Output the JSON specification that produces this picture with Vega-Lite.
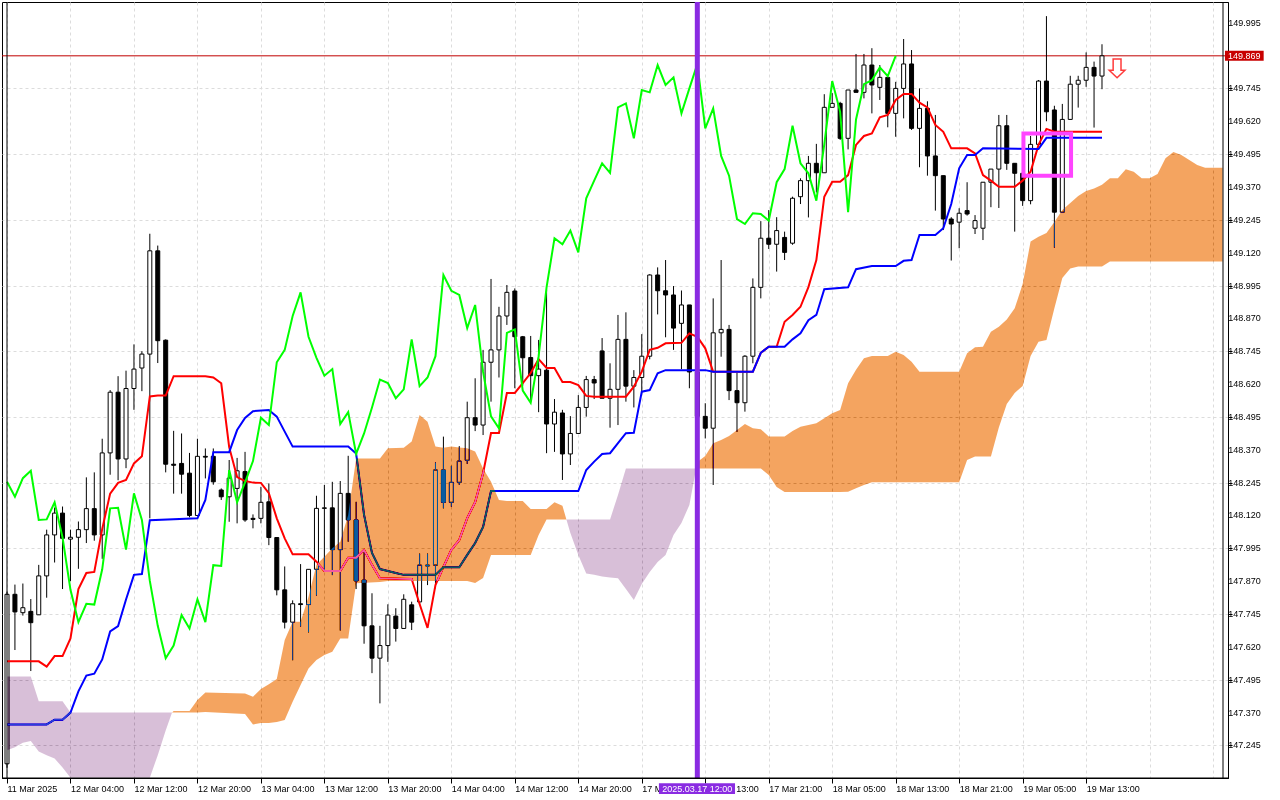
{
"$schema":"https://vega.github.io/schema/vega-lite/v6.json",
"width":1226,"height":776,"autosize":"none",
"padding":{"left":2,"top":2,"right":52,"bottom":22},
"background":"white",
"config":{"view":{"stroke":"#000000","strokeWidth":1},"font":"Liberation Sans"},
"datasets":{
"yt":[{"p":147.245},{"p":147.37},{"p":147.495},{"p":147.62},{"p":147.745},{"p":147.87},{"p":147.995},{"p":148.12},{"p":148.245},{"p":148.37},{"p":148.495},{"p":148.62},{"p":148.745},{"p":148.87},{"p":148.995},{"p":149.12},{"p":149.245},{"p":149.37},{"p":149.495},{"p":149.62},{"p":149.745},{"p":149.995}],
"bars":[
{"k":0,"o":147.175,"h":147.83,"l":147.16,"c":147.82},
{"k":1,"o":147.82,"h":147.857,"l":147.608,"c":147.753},
{"k":2,"o":147.75,"h":147.861,"l":147.739,"c":147.769},
{"k":3,"o":147.755,"h":147.802,"l":147.528,"c":147.712},
{"k":4,"o":147.742,"h":147.932,"l":147.742,"c":147.89},
{"k":5,"o":147.89,"h":148.066,"l":147.807,"c":148.046},
{"k":6,"o":148.046,"h":148.15,"l":147.941,"c":148.129},
{"k":7,"o":148.129,"h":148.154,"l":147.84,"c":148.033},
{"k":8,"o":148.03,"h":148.066,"l":147.87,"c":148.037},
{"k":9,"o":148.037,"h":148.097,"l":147.917,"c":148.066},
{"k":10,"o":148.066,"h":148.265,"l":148.015,"c":148.146},
{"k":11,"o":148.146,"h":148.284,"l":148.024,"c":148.046},
{"k":12,"o":148.046,"h":148.412,"l":147.955,"c":148.358},
{"k":13,"o":148.358,"h":148.597,"l":148.275,"c":148.589},
{"k":14,"o":148.589,"h":148.65,"l":148.254,"c":148.335},
{"k":15,"o":148.335,"h":148.671,"l":148.3,"c":148.603},
{"k":16,"o":148.603,"h":148.771,"l":148.522,"c":148.677},
{"k":17,"o":148.681,"h":148.745,"l":148.593,"c":148.734},
{"k":18,"o":148.734,"h":149.192,"l":148.109,"c":149.127},
{"k":19,"o":149.127,"h":149.147,"l":148.7,"c":148.785},
{"k":20,"o":148.787,"h":148.79,"l":148.284,"c":148.315},
{"k":21,"o":148.315,"h":148.442,"l":148.203,"c":148.311},
{"k":22,"o":148.318,"h":148.432,"l":148.203,"c":148.277},
{"k":23,"o":148.281,"h":148.358,"l":148.113,"c":148.12},
{"k":24,"o":148.12,"h":148.412,"l":148.12,"c":148.345},
{"k":25,"o":148.345,"h":148.375,"l":148.261,"c":148.342},
{"k":26,"o":148.345,"h":148.375,"l":148.237,"c":148.248},
{"k":27,"o":148.217,"h":148.223,"l":148.179,"c":148.191},
{"k":28,"o":148.191,"h":148.331,"l":148.096,"c":148.262},
{"k":29,"o":148.223,"h":148.339,"l":148.09,"c":148.29},
{"k":30,"o":148.287,"h":148.362,"l":148.096,"c":148.103},
{"k":31,"o":148.109,"h":148.124,"l":148.071,"c":148.105},
{"k":32,"o":148.109,"h":148.229,"l":148.09,"c":148.17},
{"k":33,"o":148.172,"h":148.242,"l":148.007,"c":148.036},
{"k":34,"o":148.036,"h":148.036,"l":147.816,"c":147.837},
{"k":35,"o":147.837,"h":147.926,"l":147.69,"c":147.714},
{"k":36,"o":147.714,"h":147.797,"l":147.569,"c":147.784},
{"k":37,"o":147.784,"h":147.935,"l":147.697,"c":147.781},
{"k":38,"o":147.781,"h":147.915,"l":147.675,"c":147.915},
{"k":39,"o":147.915,"h":148.195,"l":147.815,"c":148.147},
{"k":40,"o":148.147,"h":148.236,"l":147.912,"c":148.149},
{"k":41,"o":148.149,"h":148.248,"l":147.893,"c":147.99},
{"k":42,"o":147.99,"h":148.251,"l":147.682,"c":148.204},
{"k":43,"o":148.204,"h":148.347,"l":148.02,"c":148.103},
{"k":44,"o":148.103,"h":148.172,"l":147.84,"c":147.871},
{"k":45,"o":147.874,"h":147.981,"l":147.632,"c":147.7},
{"k":46,"o":147.7,"h":147.824,"l":147.52,"c":147.577},
{"k":47,"o":147.577,"h":147.7,"l":147.405,"c":147.625},
{"k":48,"o":147.625,"h":147.782,"l":147.563,"c":147.741},
{"k":49,"o":147.737,"h":147.767,"l":147.64,"c":147.69},
{"k":50,"o":147.69,"h":147.82,"l":147.69,"c":147.801},
{"k":51,"o":147.78,"h":147.792,"l":147.684,"c":147.714},
{"k":52,"o":147.791,"h":147.975,"l":147.78,"c":147.931},
{"k":53,"o":147.931,"h":147.975,"l":147.855,"c":147.928},
{"k":54,"o":147.931,"h":148.322,"l":147.843,"c":148.293},
{"k":55,"o":148.293,"h":148.42,"l":148.147,"c":148.17},
{"k":56,"o":148.17,"h":148.309,"l":148.153,"c":148.246},
{"k":57,"o":148.246,"h":148.384,"l":148.236,"c":148.327},
{"k":58,"o":148.33,"h":148.553,"l":148.316,"c":148.492},
{"k":59,"o":148.492,"h":148.642,"l":148.441,"c":148.464},
{"k":60,"o":148.464,"h":148.75,"l":148.426,"c":148.703},
{"k":61,"o":148.703,"h":149.02,"l":148.553,"c":148.75},
{"k":62,"o":148.75,"h":148.914,"l":148.645,"c":148.879},
{"k":63,"o":148.879,"h":148.997,"l":148.845,"c":148.969},
{"k":64,"o":148.974,"h":148.984,"l":148.604,"c":148.8},
{"k":65,"o":148.8,"h":148.803,"l":148.614,"c":148.72},
{"k":66,"o":148.721,"h":148.803,"l":148.553,"c":148.652},
{"k":67,"o":148.652,"h":148.788,"l":148.513,"c":148.677},
{"k":68,"o":148.673,"h":148.979,"l":148.357,"c":148.468},
{"k":69,"o":148.468,"h":148.563,"l":148.362,"c":148.513},
{"k":70,"o":148.51,"h":148.522,"l":148.255,"c":148.354},
{"k":71,"o":148.354,"h":148.498,"l":148.312,"c":148.432},
{"k":72,"o":148.432,"h":148.578,"l":148.432,"c":148.531},
{"k":73,"o":148.531,"h":148.651,"l":148.496,"c":148.637},
{"k":74,"o":148.637,"h":148.651,"l":148.563,"c":148.624},
{"k":75,"o":148.746,"h":148.795,"l":148.566,"c":148.566},
{"k":76,"o":148.566,"h":148.699,"l":148.454,"c":148.6},
{"k":77,"o":148.6,"h":148.883,"l":148.464,"c":148.79},
{"k":78,"o":148.79,"h":148.893,"l":148.553,"c":148.612},
{"k":79,"o":148.612,"h":148.673,"l":148.531,"c":148.645},
{"k":80,"o":148.645,"h":148.81,"l":148.585,"c":148.726},
{"k":81,"o":148.726,"h":149.038,"l":148.714,"c":149.035},
{"k":82,"o":149.035,"h":149.064,"l":148.885,"c":148.975},
{"k":83,"o":148.975,"h":149.092,"l":148.798,"c":148.959},
{"k":84,"o":148.959,"h":148.993,"l":148.75,"c":148.833},
{"k":85,"o":148.851,"h":148.976,"l":148.677,"c":148.921},
{"k":86,"o":148.921,"h":148.921,"l":148.604,"c":148.666},
{"k":87,"o":148.666,"h":148.7,"l":148.45,"c":148.497},
{"k":88,"o":148.497,"h":148.547,"l":148.413,"c":148.452},
{"k":89,"o":148.452,"h":148.946,"l":148.236,"c":148.815},
{"k":90,"o":148.815,"h":149.092,"l":148.724,"c":148.828},
{"k":91,"o":148.828,"h":148.845,"l":148.559,"c":148.595},
{"k":92,"o":148.595,"h":148.663,"l":148.438,"c":148.549},
{"k":93,"o":148.549,"h":148.73,"l":148.515,"c":148.726},
{"k":94,"o":148.726,"h":149.022,"l":148.699,"c":148.988},
{"k":95,"o":148.988,"h":149.24,"l":148.946,"c":149.175},
{"k":96,"o":149.175,"h":149.282,"l":149.134,"c":149.152},
{"k":97,"o":149.152,"h":149.255,"l":149.048,"c":149.204},
{"k":98,"o":149.178,"h":149.2,"l":149.092,"c":149.121},
{"k":99,"o":149.156,"h":149.333,"l":149.15,"c":149.327},
{"k":100,"o":149.333,"h":149.403,"l":149.305,"c":149.394},
{"k":101,"o":149.394,"h":149.488,"l":149.254,"c":149.46},
{"k":102,"o":149.46,"h":149.534,"l":149.349,"c":149.424},
{"k":103,"o":149.424,"h":149.723,"l":149.424,"c":149.673},
{"k":104,"o":149.673,"h":149.727,"l":149.673,"c":149.688},
{"k":105,"o":149.688,"h":149.694,"l":149.549,"c":149.555},
{"k":106,"o":149.555,"h":149.739,"l":149.513,"c":149.739},
{"k":107,"o":149.739,"h":149.876,"l":149.73,"c":149.73},
{"k":108,"o":149.73,"h":149.876,"l":149.707,"c":149.834},
{"k":109,"o":149.834,"h":149.898,"l":149.65,"c":149.758},
{"k":110,"o":149.749,"h":149.834,"l":149.701,"c":149.787},
{"k":111,"o":149.787,"h":149.787,"l":149.597,"c":149.65},
{"k":112,"o":149.65,"h":149.77,"l":149.561,"c":149.745},
{"k":113,"o":149.745,"h":149.933,"l":149.631,"c":149.838},
{"k":114,"o":149.838,"h":149.891,"l":149.587,"c":149.593},
{"k":115,"o":149.593,"h":149.745,"l":149.445,"c":149.669},
{"k":116,"o":149.669,"h":149.696,"l":149.413,"c":149.488},
{"k":117,"o":149.488,"h":149.644,"l":149.28,"c":149.413},
{"k":118,"o":149.413,"h":149.413,"l":149.206,"c":149.248},
{"k":119,"o":149.248,"h":149.255,"l":149.09,"c":149.229},
{"k":120,"o":149.236,"h":149.289,"l":149.137,"c":149.27},
{"k":121,"o":149.28,"h":149.388,"l":149.261,"c":149.267},
{"k":122,"o":149.213,"h":149.263,"l":149.191,"c":149.242},
{"k":123,"o":149.213,"h":149.388,"l":149.168,"c":149.388},
{"k":124,"o":149.388,"h":149.438,"l":149.293,"c":149.438},
{"k":125,"o":149.438,"h":149.644,"l":149.29,"c":149.603},
{"k":126,"o":149.603,"h":149.644,"l":149.435,"c":149.46},
{"k":127,"o":149.46,"h":149.46,"l":149.2,"c":149.422},
{"k":128,"o":149.422,"h":149.422,"l":149.298,"c":149.318},
{"k":129,"o":149.318,"h":149.564,"l":149.304,"c":149.532},
{"k":130,"o":149.532,"h":149.777,"l":149.532,"c":149.773},
{"k":131,"o":149.773,"h":150.02,"l":149.62,"c":149.656},
{"k":132,"o":149.663,"h":149.679,"l":149.139,"c":149.274},
{"k":133,"o":149.274,"h":149.686,"l":149.274,"c":149.627},
{"k":134,"o":149.627,"h":149.793,"l":149.625,"c":149.761},
{"k":135,"o":149.761,"h":149.793,"l":149.672,"c":149.776},
{"k":136,"o":149.776,"h":149.882,"l":149.751,"c":149.825},
{"k":137,"o":149.825,"h":149.847,"l":149.596,"c":149.792},
{"k":138,"o":149.792,"h":149.913,"l":149.742,"c":149.869}
],
"ten":[
{"k":0,"v":147.565},{"k":4,"v":147.565},{"k":5,"v":147.545},{"k":6,"v":147.585},{"k":7,"v":147.585},{"k":8,"v":147.652},{"k":9,"v":147.84},{"k":10,"v":147.901},{"k":11,"v":147.905},{"k":12,"v":148.069},{"k":13,"v":148.203},{"k":14,"v":148.244},{"k":15,"v":148.255},{"k":16,"v":148.318},{"k":17,"v":148.345},{"k":18,"v":148.573},{"k":19,"v":148.576},{"k":20,"v":148.576},{"k":21,"v":148.65},{"k":25,"v":148.65},{"k":26,"v":148.645},{"k":27,"v":148.623},{"k":28,"v":148.38},{"k":29,"v":148.266},{"k":30,"v":148.251},{"k":31,"v":148.245},{"k":32,"v":148.244},{"k":33,"v":148.205},{"k":34,"v":148.109},{"k":35,"v":148.033},{"k":36,"v":147.972},{"k":38,"v":147.972},{"k":39,"v":147.944},{"k":40,"v":147.909},{"k":42,"v":147.909},{"k":43,"v":147.959},{"k":44,"v":147.959},{"k":45,"v":147.989},{"k":46,"v":147.932},{"k":47,"v":147.881},{"k":51,"v":147.878},{"k":52,"v":147.783},{"k":53,"v":147.692},{"k":54,"v":147.855},{"k":55,"v":147.924},{"k":56,"v":147.989},{"k":57,"v":148.027},{"k":58,"v":148.11},{"k":59,"v":148.171},{"k":60,"v":148.281},{"k":61,"v":148.434},{"k":62,"v":148.434},{"k":63,"v":148.586},{"k":64,"v":148.586},{"k":65,"v":148.624},{"k":66,"v":148.662},{"k":67,"v":148.715},{"k":68,"v":148.681},{"k":69,"v":148.681},{"k":70,"v":148.628},{"k":71,"v":148.628},{"k":72,"v":148.616},{"k":73,"v":148.575},{"k":74,"v":148.572},{"k":78,"v":148.572},{"k":79,"v":148.61},{"k":80,"v":148.667},{"k":81,"v":148.75},{"k":82,"v":148.758},{"k":83,"v":148.775},{"k":85,"v":148.777},{"k":86,"v":148.813},{"k":87,"v":148.8},{"k":88,"v":148.756},{"k":89,"v":148.667},{"k":94,"v":148.667},{"k":95,"v":148.739},{"k":96,"v":148.762},{"k":97,"v":148.762},{"k":98,"v":148.857},{"k":99,"v":148.883},{"k":100,"v":148.914},{"k":101,"v":148.989},{"k":102,"v":149.092},{"k":103,"v":149.333},{"k":104,"v":149.39},{"k":105,"v":149.39},{"k":106,"v":149.415},{"k":107,"v":149.53},{"k":108,"v":149.564},{"k":109,"v":149.574},{"k":110,"v":149.635},{"k":111,"v":149.644},{"k":112,"v":149.701},{"k":113,"v":149.724},{"k":114,"v":149.724},{"k":115,"v":149.691},{"k":116,"v":149.673},{"k":117,"v":149.606},{"k":118,"v":149.58},{"k":119,"v":149.517},{"k":121,"v":149.517},{"k":122,"v":149.498},{"k":123,"v":149.415},{"k":124,"v":149.394},{"k":125,"v":149.371},{"k":127,"v":149.371},{"k":128,"v":149.394},{"k":129,"v":149.428},{"k":130,"v":149.53},{"k":131,"v":149.591},{"k":132,"v":149.58},{"k":138,"v":149.58}
],
"kij":[
{"k":0,"v":147.325},{"k":5,"v":147.325},{"k":6,"v":147.343},{"k":7,"v":147.343},{"k":8,"v":147.37},{"k":9,"v":147.451},{"k":10,"v":147.511},{"k":11,"v":147.518},{"k":12,"v":147.572},{"k":13,"v":147.679},{"k":14,"v":147.699},{"k":15,"v":147.8},{"k":16,"v":147.894},{"k":17,"v":147.897},{"k":18,"v":148.102},{"k":24,"v":148.109},{"k":25,"v":148.179},{"k":26,"v":148.361},{"k":28,"v":148.361},{"k":29,"v":148.445},{"k":30,"v":148.491},{"k":31,"v":148.517},{"k":33,"v":148.521},{"k":34,"v":148.496},{"k":35,"v":148.439},{"k":36,"v":148.382},{"k":43,"v":148.382},{"k":44,"v":148.356},{"k":45,"v":148.122},{"k":46,"v":147.977},{"k":47,"v":147.916},{"k":48,"v":147.909},{"k":49,"v":147.901},{"k":50,"v":147.894},{"k":54,"v":147.894},{"k":55,"v":147.923},{"k":57,"v":147.923},{"k":58,"v":147.97},{"k":59,"v":148.015},{"k":60,"v":148.076},{"k":61,"v":148.213},{"k":72,"v":148.213},{"k":73,"v":148.293},{"k":74,"v":148.325},{"k":75,"v":148.354},{"k":76,"v":148.357},{"k":77,"v":148.395},{"k":78,"v":148.433},{"k":79,"v":148.435},{"k":80,"v":148.591},{"k":81,"v":148.597},{"k":82,"v":148.661},{"k":83,"v":148.673},{"k":88,"v":148.673},{"k":89,"v":148.667},{"k":94,"v":148.667},{"k":95,"v":148.739},{"k":96,"v":148.762},{"k":98,"v":148.762},{"k":99,"v":148.79},{"k":100,"v":148.813},{"k":101,"v":148.863},{"k":102,"v":148.883},{"k":103,"v":148.981},{"k":106,"v":148.988},{"k":107,"v":149.057},{"k":109,"v":149.069},{"k":112,"v":149.069},{"k":113,"v":149.089},{"k":114,"v":149.092},{"k":115,"v":149.187},{"k":117,"v":149.187},{"k":118,"v":149.213},{"k":119,"v":149.305},{"k":120,"v":149.441},{"k":121,"v":149.492},{"k":122,"v":149.492},{"k":123,"v":149.517},{"k":130,"v":149.514},{"k":131,"v":149.557},{"k":138,"v":149.557}
],
"chi":[
{"k":0,"v":148.248},{"k":1,"v":148.191},{"k":2,"v":148.262},{"k":3,"v":148.29},{"k":4,"v":148.103},{"k":5,"v":148.105},{"k":6,"v":148.17},{"k":7,"v":148.036},{"k":8,"v":147.837},{"k":9,"v":147.714},{"k":10,"v":147.784},{"k":11,"v":147.781},{"k":12,"v":147.915},{"k":13,"v":148.147},{"k":14,"v":148.149},{"k":15,"v":147.99},{"k":16,"v":148.204},{"k":17,"v":148.103},{"k":18,"v":147.871},{"k":19,"v":147.7},{"k":20,"v":147.577},{"k":21,"v":147.625},{"k":22,"v":147.741},{"k":23,"v":147.69},{"k":24,"v":147.801},{"k":25,"v":147.714},{"k":26,"v":147.931},{"k":27,"v":147.928},{"k":28,"v":148.293},{"k":29,"v":148.17},{"k":30,"v":148.246},{"k":31,"v":148.327},{"k":32,"v":148.492},{"k":33,"v":148.464},{"k":34,"v":148.703},{"k":35,"v":148.75},{"k":36,"v":148.879},{"k":37,"v":148.969},{"k":38,"v":148.8},{"k":39,"v":148.72},{"k":40,"v":148.652},{"k":41,"v":148.677},{"k":42,"v":148.468},{"k":43,"v":148.513},{"k":44,"v":148.354},{"k":45,"v":148.432},{"k":46,"v":148.531},{"k":47,"v":148.637},{"k":48,"v":148.624},{"k":49,"v":148.566},{"k":50,"v":148.6},{"k":51,"v":148.79},{"k":52,"v":148.612},{"k":53,"v":148.645},{"k":54,"v":148.726},{"k":55,"v":149.035},{"k":56,"v":148.975},{"k":57,"v":148.959},{"k":58,"v":148.833},{"k":59,"v":148.921},{"k":60,"v":148.666},{"k":61,"v":148.497},{"k":62,"v":148.452},{"k":63,"v":148.815},{"k":64,"v":148.828},{"k":65,"v":148.595},{"k":66,"v":148.549},{"k":67,"v":148.726},{"k":68,"v":148.988},{"k":69,"v":149.175},{"k":70,"v":149.152},{"k":71,"v":149.204},{"k":72,"v":149.121},{"k":73,"v":149.327},{"k":74,"v":149.394},{"k":75,"v":149.46},{"k":76,"v":149.424},{"k":77,"v":149.673},{"k":78,"v":149.688},{"k":79,"v":149.555},{"k":80,"v":149.739},{"k":81,"v":149.73},{"k":82,"v":149.834},{"k":83,"v":149.758},{"k":84,"v":149.787},{"k":85,"v":149.65},{"k":86,"v":149.745},{"k":87,"v":149.838},{"k":88,"v":149.593},{"k":89,"v":149.669},{"k":90,"v":149.488},{"k":91,"v":149.413},{"k":92,"v":149.248},{"k":93,"v":149.229},{"k":94,"v":149.27},{"k":95,"v":149.267},{"k":96,"v":149.242},{"k":97,"v":149.388},{"k":98,"v":149.438},{"k":99,"v":149.603},{"k":100,"v":149.46},{"k":101,"v":149.422},{"k":102,"v":149.318},{"k":103,"v":149.532},{"k":104,"v":149.773},{"k":105,"v":149.656},{"k":106,"v":149.274},{"k":107,"v":149.627},{"k":108,"v":149.761},{"k":109,"v":149.776},{"k":110,"v":149.825},{"k":111,"v":149.792},{"k":112,"v":149.869}
],
"cloud":[
{"k":0,"a":147.507,"b":147.227,"s":1,"t":"bear"},{"k":1,"a":147.507,"b":147.238,"s":1,"t":"bear"},{"k":2,"a":147.507,"b":147.255,"s":1,"t":"bear"},{"k":3,"a":147.507,"b":147.262,"s":1,"t":"bear"},{"k":4,"a":147.413,"b":147.222,"s":1,"t":"bear"},{"k":5,"a":147.413,"b":147.208,"s":1,"t":"bear"},{"k":6,"a":147.413,"b":147.195,"s":1,"t":"bear"},{"k":7,"a":147.413,"b":147.161,"s":1,"t":"bear"},{"k":8,"a":147.37,"b":147.122,"s":1,"t":"bear"},{"k":18,"a":147.37,"b":147.122,"s":1,"t":"bear"},{"k":19,"a":147.37,"b":147.208,"s":1,"t":"bear"},{"k":20,"a":147.37,"b":147.302,"s":1,"t":"bear"},{"k":20.8,"a":147.37,"b":147.37,"s":1,"t":"bear"},
{"k":20.8,"a":147.37,"b":147.37,"s":2,"t":"bull"},{"k":21,"a":147.376,"b":147.37,"s":2,"t":"bull"},{"k":23,"a":147.376,"b":147.37,"s":2,"t":"bull"},{"k":24,"a":147.418,"b":147.37,"s":2,"t":"bull"},{"k":25,"a":147.446,"b":147.372,"s":2,"t":"bull"},{"k":30,"a":147.443,"b":147.365,"s":2,"t":"bull"},{"k":31,"a":147.43,"b":147.325,"s":2,"t":"bull"},{"k":32,"a":147.46,"b":147.33,"s":2,"t":"bull"},{"k":33,"a":147.478,"b":147.33,"s":2,"t":"bull"},{"k":34,"a":147.498,"b":147.334,"s":2,"t":"bull"},{"k":35,"a":147.646,"b":147.342,"s":2,"t":"bull"},{"k":36,"a":147.716,"b":147.411,"s":2,"t":"bull"},{"k":37,"a":147.716,"b":147.475,"s":2,"t":"bull"},{"k":38,"a":147.811,"b":147.538,"s":2,"t":"bull"},{"k":39,"a":147.932,"b":147.57,"s":2,"t":"bull"},{"k":40,"a":147.963,"b":147.589,"s":2,"t":"bull"},{"k":41,"a":147.995,"b":147.601,"s":2,"t":"bull"},{"k":42,"a":148.02,"b":147.652,"s":2,"t":"bull"},{"k":43,"a":148.122,"b":147.652,"s":2,"t":"bull"},{"k":44,"a":148.337,"b":147.862,"s":2,"t":"bull"},{"k":47,"a":148.337,"b":147.867,"s":2,"t":"bull"},{"k":48,"a":148.376,"b":147.871,"s":2,"t":"bull"},{"k":50,"a":148.378,"b":147.871,"s":2,"t":"bull"},{"k":51,"a":148.401,"b":147.871,"s":2,"t":"bull"},{"k":52,"a":148.502,"b":147.871,"s":2,"t":"bull"},{"k":53,"a":148.477,"b":147.871,"s":2,"t":"bull"},{"k":54,"a":148.382,"b":147.871,"s":2,"t":"bull"},{"k":55,"a":148.378,"b":147.871,"s":2,"t":"bull"},{"k":56,"a":148.382,"b":147.871,"s":2,"t":"bull"},{"k":57,"a":148.379,"b":147.871,"s":2,"t":"bull"},{"k":58,"a":148.376,"b":147.871,"s":2,"t":"bull"},{"k":59,"a":148.363,"b":147.863,"s":2,"t":"bull"},{"k":60,"a":148.299,"b":147.882,"s":2,"t":"bull"},{"k":61,"a":148.248,"b":147.97,"s":2,"t":"bull"},{"k":62,"a":148.179,"b":147.97,"s":2,"t":"bull"},{"k":63,"a":148.175,"b":147.97,"s":2,"t":"bull"},{"k":65,"a":148.175,"b":147.97,"s":2,"t":"bull"},{"k":66,"a":148.145,"b":147.97,"s":2,"t":"bull"},{"k":67,"a":148.145,"b":148.046,"s":2,"t":"bull"},{"k":68,"a":148.145,"b":148.105,"s":2,"t":"bull"},{"k":69,"a":148.17,"b":148.105,"s":2,"t":"bull"},{"k":70,"a":148.157,"b":148.105,"s":2,"t":"bull"},{"k":70.5,"a":148.105,"b":148.105,"s":2,"t":"bull"},
{"k":70.5,"a":148.105,"b":148.105,"s":3,"t":"bear"},{"k":71,"a":148.105,"b":148.053,"s":3,"t":"bear"},{"k":72,"a":148.105,"b":147.97,"s":3,"t":"bear"},{"k":73,"a":148.105,"b":147.899,"s":3,"t":"bear"},{"k":74,"a":148.105,"b":147.894,"s":3,"t":"bear"},{"k":75,"a":148.105,"b":147.888,"s":3,"t":"bear"},{"k":76,"a":148.105,"b":147.884,"s":3,"t":"bear"},{"k":77,"a":148.198,"b":147.881,"s":3,"t":"bear"},{"k":78,"a":148.299,"b":147.84,"s":3,"t":"bear"},{"k":79,"a":148.299,"b":147.798,"s":3,"t":"bear"},{"k":80,"a":148.299,"b":147.859,"s":3,"t":"bear"},{"k":81,"a":148.299,"b":147.905,"s":3,"t":"bear"},{"k":82,"a":148.299,"b":147.943,"s":3,"t":"bear"},{"k":83,"a":148.299,"b":147.97,"s":3,"t":"bear"},{"k":84,"a":148.299,"b":148.046,"s":3,"t":"bear"},{"k":85,"a":148.299,"b":148.091,"s":3,"t":"bear"},{"k":86,"a":148.299,"b":148.16,"s":3,"t":"bear"},{"k":86.85,"a":148.299,"b":148.299,"s":3,"t":"bear"},
{"k":86.85,"a":148.299,"b":148.299,"s":4,"t":"bull"},{"k":87,"a":148.323,"b":148.299,"s":4,"t":"bull"},{"k":88,"a":148.346,"b":148.299,"s":4,"t":"bull"},{"k":89,"a":148.395,"b":148.299,"s":4,"t":"bull"},{"k":90,"a":148.407,"b":148.299,"s":4,"t":"bull"},{"k":91,"a":148.422,"b":148.299,"s":4,"t":"bull"},{"k":92,"a":148.445,"b":148.299,"s":4,"t":"bull"},{"k":93,"a":148.468,"b":148.299,"s":4,"t":"bull"},{"k":94,"a":148.452,"b":148.299,"s":4,"t":"bull"},{"k":95,"a":148.448,"b":148.299,"s":4,"t":"bull"},{"k":96,"a":148.42,"b":148.274,"s":4,"t":"bull"},{"k":97,"a":148.42,"b":148.228,"s":4,"t":"bull"},{"k":98,"a":148.42,"b":148.209,"s":4,"t":"bull"},{"k":99,"a":148.441,"b":148.209,"s":4,"t":"bull"},{"k":100,"a":148.458,"b":148.209,"s":4,"t":"bull"},{"k":101,"a":148.464,"b":148.209,"s":4,"t":"bull"},{"k":102,"a":148.471,"b":148.209,"s":4,"t":"bull"},{"k":103,"a":148.49,"b":148.209,"s":4,"t":"bull"},{"k":104,"a":148.509,"b":148.209,"s":4,"t":"bull"},{"k":105,"a":148.521,"b":148.209,"s":4,"t":"bull"},{"k":106,"a":148.623,"b":148.21,"s":4,"t":"bull"},{"k":107,"a":148.674,"b":148.224,"s":4,"t":"bull"},{"k":108,"a":148.718,"b":148.236,"s":4,"t":"bull"},{"k":109,"a":148.727,"b":148.246,"s":4,"t":"bull"},{"k":111,"a":148.727,"b":148.246,"s":4,"t":"bull"},{"k":112,"a":148.743,"b":148.246,"s":4,"t":"bull"},{"k":113,"a":148.731,"b":148.246,"s":4,"t":"bull"},{"k":114,"a":148.705,"b":148.246,"s":4,"t":"bull"},{"k":115,"a":148.667,"b":148.246,"s":4,"t":"bull"},{"k":120,"a":148.667,"b":148.246,"s":4,"t":"bull"},{"k":121,"a":148.737,"b":148.331,"s":4,"t":"bull"},{"k":122,"a":148.76,"b":148.344,"s":4,"t":"bull"},{"k":123,"a":148.762,"b":148.344,"s":4,"t":"bull"},{"k":124,"a":148.819,"b":148.344,"s":4,"t":"bull"},{"k":125,"a":148.838,"b":148.455,"s":4,"t":"bull"},{"k":126,"a":148.866,"b":148.544,"s":4,"t":"bull"},{"k":127,"a":148.908,"b":148.586,"s":4,"t":"bull"},{"k":128,"a":149.001,"b":148.613,"s":4,"t":"bull"},{"k":129,"a":149.162,"b":148.727,"s":4,"t":"bull"},{"k":130,"a":149.181,"b":148.781,"s":4,"t":"bull"},{"k":131,"a":149.195,"b":148.788,"s":4,"t":"bull"},{"k":132,"a":149.237,"b":148.908,"s":4,"t":"bull"},{"k":133,"a":149.282,"b":149.024,"s":4,"t":"bull"},{"k":134,"a":149.309,"b":149.06,"s":4,"t":"bull"},{"k":135,"a":149.336,"b":149.067,"s":4,"t":"bull"},{"k":136,"a":149.355,"b":149.067,"s":4,"t":"bull"},{"k":137,"a":149.364,"b":149.067,"s":4,"t":"bull"},{"k":138,"a":149.378,"b":149.067,"s":4,"t":"bull"},{"k":139,"a":149.403,"b":149.086,"s":4,"t":"bull"},{"k":140,"a":149.403,"b":149.086,"s":4,"t":"bull"},{"k":141,"a":149.437,"b":149.086,"s":4,"t":"bull"},{"k":142,"a":149.428,"b":149.086,"s":4,"t":"bull"},{"k":143,"a":149.403,"b":149.086,"s":4,"t":"bull"},{"k":144,"a":149.403,"b":149.086,"s":4,"t":"bull"},{"k":145,"a":149.419,"b":149.086,"s":4,"t":"bull"},{"k":146,"a":149.479,"b":149.086,"s":4,"t":"bull"},{"k":147,"a":149.503,"b":149.086,"s":4,"t":"bull"},{"k":148,"a":149.492,"b":149.086,"s":4,"t":"bull"},{"k":149,"a":149.473,"b":149.086,"s":4,"t":"bull"},{"k":150,"a":149.454,"b":149.086,"s":4,"t":"bull"},{"k":151,"a":149.443,"b":149.086,"s":4,"t":"bull"},{"k":153.2,"a":149.443,"b":149.086,"s":4,"t":"bull"}
]
},
"layer":[
{"data":{"values":[{}]},"mark":{"type":"rule","color":"#c00000","strokeWidth":1},
 "encoding":{"y":{"datum":149.869,"type":"quantitative"}}},
{"data":{"name":"bars"},"mark":{"type":"rule","color":"#000000","strokeWidth":1,"clip":true},
 "encoding":{"x":{"field":"k","type":"quantitative","scale":{"domain":[0,153.25],"nice":false,"zero":false},
  "axis":{"title":null,"values":[0,4,8,12,16,20,24,28,32,36,40,44,48,52,56,60,64,68,72,76,80,84,88,92,96,100,104,108,112,116,120,124,128,132,136,140,144,148,152],
   "labelExpr":"(datum.value % 8 == 0 && datum.value <= 136) ? ['11 Mar 2025','12 Mar 04:00','12 Mar 12:00','12 Mar 20:00','13 Mar 04:00','13 Mar 12:00','13 Mar 20:00','14 Mar 04:00','14 Mar 12:00','14 Mar 20:00','17 Mar 05:00','17 Mar 13:00','17 Mar 21:00','18 Mar 05:00','18 Mar 13:00','18 Mar 21:00','19 Mar 05:00','19 Mar 13:00'][datum.value / 8] : ''",
   "labelAlign":"left","labelBaseline":"alphabetic","labelPadding":8,"labelFont":"Liberation Sans","labelFontSize":9,"labelColor":"#000000","labelOverlap":false,"labelFlush":false,"labelBound":false,"labelLimit":0,
   "tickSize":5,"tickColor":"#000000","tickOpacity":{"condition":{"test":"datum.value % 8 == 0 && datum.value <= 136","value":1},"value":0},
   "domainColor":"#000000","grid":true,"gridColor":"#dcdcdc","gridDash":[3,3]}},
  "y":{"field":"l","type":"quantitative","scale":{"domain":[147.121,150.0738],"nice":false,"zero":false},
   "axis":{"orient":"right","title":null,"values":[147.245,147.37,147.495,147.62,147.745,147.87,147.995,148.12,148.245,148.37,148.495,148.62,148.745,148.87,148.995,149.12,149.245,149.37,149.495,149.62,149.745,149.995],"labels":false,"tickSize":4,"tickColor":"#000000","domainColor":"#000000","grid":true,"gridColor":"#dcdcdc","gridDash":[3,3]}},
  "y2":{"field":"h"}}},
{"data":{"name":"bars"},"mark":{"type":"bar","size":4,"stroke":"#000000","strokeWidth":1,"clip":true},
 "encoding":{"x":{"field":"k","type":"quantitative","title":null},"y":{"field":"o","type":"quantitative","title":null},"y2":{"field":"c"},
  "fill":{"condition":{"test":"datum.c >= datum.o","value":"#ffffff"},"value":"#000000"}}},
{"data":{"name":"ten"},"mark":{"type":"line","color":"#ff0000","strokeWidth":2,"clip":true},
 "encoding":{"x":{"field":"k","type":"quantitative","title":null},"y":{"field":"v","type":"quantitative","title":null}}},
{"data":{"name":"kij"},"mark":{"type":"line","color":"#0000ff","strokeWidth":2,"clip":true},
 "encoding":{"x":{"field":"k","type":"quantitative","title":null},"y":{"field":"v","type":"quantitative","title":null}}},
{"data":{"name":"chi"},"mark":{"type":"line","color":"#00ff00","strokeWidth":2,"clip":true},
 "encoding":{"x":{"field":"k","type":"quantitative","title":null},"y":{"field":"v","type":"quantitative","title":null}}},
{"data":{"name":"cloud"},"mark":{"type":"area","blend":"difference","interpolate":"linear"},
 "encoding":{"x":{"field":"k","type":"quantitative","title":null},"y":{"field":"a","type":"quantitative","title":null},"y2":{"field":"b"},
  "detail":{"field":"s","type":"nominal"},
  "fill":{"field":"t","type":"nominal","scale":{"domain":["bull","bear"],"range":["#0b5b9f","#274027"]},"legend":null}}},
{"data":{"values":[{}]},"mark":{"type":"rule","color":"#8a2be2","strokeWidth":5},
 "encoding":{"x":{"datum":87,"type":"quantitative"}}},
{"data":{"values":[{}]},"mark":{"type":"rect","fill":"transparent","stroke":"#ff44ff","strokeWidth":4},
 "encoding":{"x":{"datum":128.1,"type":"quantitative"},"x2":{"datum":134.1},"y":{"datum":149.573,"type":"quantitative"},"y2":{"datum":149.413}}},
{"data":{"values":[{}]},"mark":{"type":"point","shape":"M -0.42 -1 L 0.42 -1 L 0.42 0.2 L 0.84 0.2 L 0 1 L -0.84 0.2 L -0.42 0.2 Z","size":350,"filled":true,"fill":"#ffffff","stroke":"#ff3b3b","strokeWidth":1.5,"opacity":1},
 "encoding":{"x":{"datum":139.9,"type":"quantitative"},"y":{"datum":149.821,"type":"quantitative"}}},
{"data":{"values":[{}]},"mark":{"type":"rule","color":"#000000","strokeWidth":1},
 "encoding":{"x":{"datum":0,"type":"quantitative"}}},
{"data":{"values":[{}]},"mark":{"type":"rule","color":"#000000","strokeWidth":1},
 "encoding":{"x":{"datum":153.25,"type":"quantitative"}}},
{"data":{"values":[{}]},"mark":{"type":"rule","color":"#000000","strokeWidth":1},
 "encoding":{"y":{"datum":147.121,"type":"quantitative"}}},
{"data":{"name":"yt"},"mark":{"type":"text","color":"#000000","font":"Liberation Sans","fontSize":9,"align":"left","baseline":"middle","clip":false},
 "encoding":{"x":{"datum":153.91,"type":"quantitative"},"y":{"field":"p","type":"quantitative","title":null},"text":{"field":"p","type":"quantitative","format":".3f"}}},
{"data":{"values":[{}]},"mark":{"type":"rect","fill":"#c80000","clip":false},
 "encoding":{"x":{"datum":153.5,"type":"quantitative"},"x2":{"datum":158.375},"y":{"datum":149.888,"type":"quantitative"},"y2":{"datum":149.85}}},
{"data":{"values":[{}]},"mark":{"type":"text","text":"149.869","color":"#ffffff","font":"Liberation Sans","fontSize":9,"align":"center","baseline":"middle","clip":false},
 "encoding":{"x":{"datum":155.94,"type":"quantitative"},"y":{"datum":149.869,"type":"quantitative"}}},
{"data":{"values":[{}]},"mark":{"type":"rect","fill":"#8a2be2","clip":false},
 "encoding":{"x":{"datum":82.16,"type":"quantitative"},"x2":{"datum":91.75},"y":{"datum":147.101,"type":"quantitative"},"y2":{"datum":147.06}}},
{"data":{"values":[{}]},"mark":{"type":"text","text":"2025.03.17 12:00","color":"#ffffff","font":"Liberation Sans","fontSize":9,"align":"center","baseline":"middle","clip":false},
 "encoding":{"x":{"datum":87,"type":"quantitative"},"y":{"datum":147.0805,"type":"quantitative"}}}
]
}
